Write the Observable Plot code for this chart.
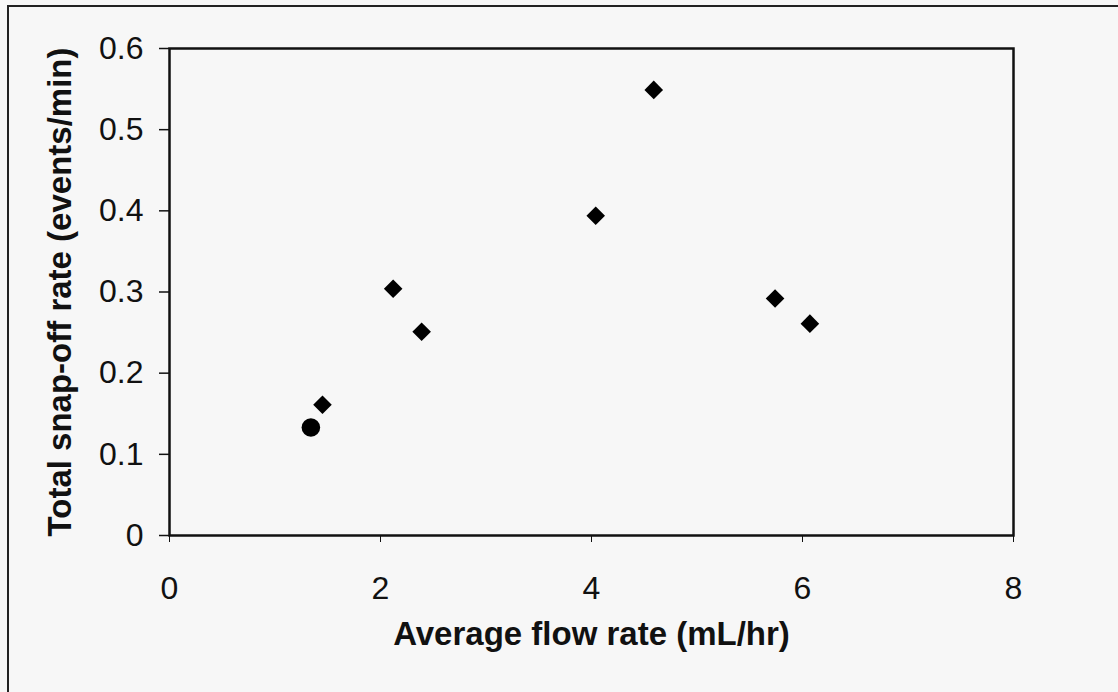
<!DOCTYPE html>
<html>
<head>
<meta charset="utf-8">
<script src="https://cdn.jsdelivr.net/npm/d3@7"></script>
<script src="https://cdn.jsdelivr.net/npm/@observablehq/plot@0.6"></script>
<style>
  html, body { margin: 0; padding: 0; background: #f7f7f7; }
  #wrap { position: relative; width: 1118px; height: 692px; overflow: hidden; }
  #border { position: absolute; left: 7px; top: 5px; width: 1111px; height: 685px;
            border-top: 2px solid #222; border-left: 2px solid #222; border-bottom: 2px solid #444; pointer-events: none; }
</style>
</head>
<body>
<div id="wrap"><div id="border"></div></div>
<script>
// Data
const flowRate = [1.34, 1.45, 2.12, 2.39, 4.04, 4.59, 5.74, 6.07];
const snapOff  = [0.133, 0.161, 0.304, 0.251, 0.394, 0.549, 0.292, 0.261];
const markerKind = ["circle", "diamond", "diamond", "diamond", "diamond", "diamond", "diamond", "diamond"];
const xTicks = [0, 2, 4, 6, 8];
const yTicks = [0, 0.1, 0.2, 0.3, 0.4, 0.5, 0.6];
const yTickLabels = ["0", "0.1", "0.2", "0.3", "0.4", "0.5", "0.6"];
const xTitle = "Average flow rate (mL/hr)";
const yTitle = "Total snap-off rate (events/min)";

const points = flowRate.map((x, i) => ({x, y: snapOff[i], kind: markerKind[i]}));

// Square diamond (rotated square) like spreadsheet markers
const squareDiamond = {
  draw(context, size) {
    const r = Math.sqrt(size / Math.PI);
    context.moveTo(0, -r);
    context.lineTo(r, 0);
    context.lineTo(0, r);
    context.lineTo(-r, 0);
    context.closePath();
  }
};

const chart = Plot.plot({
  width: 1118,
  height: 692,
  marginLeft: 169,
  marginRight: 105,
  marginTop: 48,
  marginBottom: 157,
  style: {
    background: "transparent",
    fontFamily: "'Liberation Sans', Arial, sans-serif",
    fontSize: "32px",
    color: "#111"
  },
  x: {domain: [0, 8]},
  y: {domain: [0, 0.6]},
  marks: [
    Plot.axisY({ticks: yTicks, tickFormat: d => yTickLabels[yTicks.indexOf(d)], tickSize: 10, tickPadding: 16, label: null, fontSize: 32, strokeWidth: 1.5}),
    Plot.axisX({ticks: xTicks, tickFormat: d => String(d), tickSize: 7, tickPadding: 34, label: null, fontSize: 32, strokeWidth: 1}),
    Plot.frame({stroke: "#111", strokeWidth: 2.5}),
    Plot.dot(points.filter(d => d.kind === "diamond"), {x: "x", y: "y", r: 9.3, symbol: squareDiamond, fill: "#000", stroke: "none"}),
    Plot.dot(points.filter(d => d.kind === "circle"), {x: "x", y: "y", r: 9.3, symbol: "circle", fill: "#000", stroke: "none"}),
    Plot.text([xTitle], {frameAnchor: "bottom", text: d => d, textAnchor: "middle", dy: 109, fontSize: 33, fontWeight: "bold", fill: "#111"}),
    Plot.text([yTitle], {frameAnchor: "left", text: d => d, textAnchor: "middle", rotate: -90, dx: -109, fontSize: 33, fontWeight: "bold", fill: "#111"})
  ]
});
document.getElementById("wrap").appendChild(chart);
chart.style.position = "absolute";
chart.style.left = "0";
chart.style.top = "0";
</script>
</body>
</html>
